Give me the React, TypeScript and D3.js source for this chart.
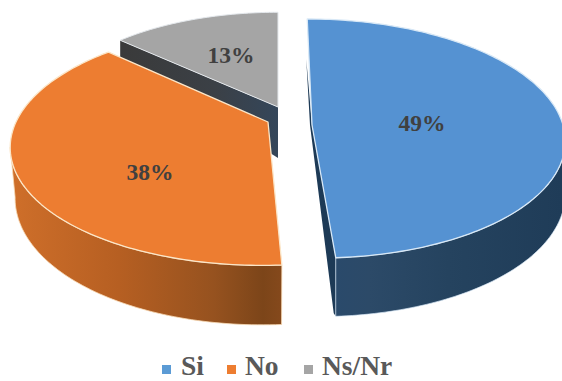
import React from "react";
import * as d3 from "d3";

// Survey answers, in percent
const categories = ["Si", "No", "Ns/Nr"];
const shares = [49, 38, 13];

const topColors = ["#5592d2", "#ed7d31", "#a5a5a5"];
const rimColors = ["#d8e8f6", "#fbe6c8", "#e4e8ec"];
const textDark = "#404040";
const legendText = "#595959";

// Perspective projection of each exploded slice: apex position, radii, foreshortening,
// shear, wall depth and how far the lower wall edge leans inwards
const views = [
  { ax: 312, ay: 125, rx: 251, ry: 118, p: 0.113, s: 0.045, d: 52, lean: 0 },
  { ax: 268, ay: 122, rx: 252, ry: 115.7, p: 0.193, s: -0.04, d: 48, lean: 5 },
  { ax: 278, ay: 107, rx: 231, ry: 104, p: 0.098, s: 0, d: 46, lean: 0 },
];
const labelSpots = [
  [422, 131],
  [150, 180],
  [231, 63],
];
const legendSpots = [
  { box: 162, text: 181 },
  { box: 227, text: 245 },
  { box: 304, text: 322 },
];

type View = (typeof views)[number];

const project = (v: View, t: number): [number, number] => {
  const w = 1 + v.p * Math.cos(t);
  const Y = (-v.ry * Math.cos(t)) / w;
  return [v.ax + (v.rx * Math.sin(t)) / w + v.s * Y, v.ay + Y];
};

const wallDepth = (v: View, t: number) => v.d / (1 + v.p * Math.cos(t));

const sampleAngles = (a: number, b: number) => {
  const n = Math.max(2, Math.ceil(Math.abs(b - a) / 0.02));
  return d3.range(n + 1).map((i) => d3.interpolateNumber(a, b)(i / n));
};

const pathOf = d3.line<[number, number]>().x((d) => d[0]).y((d) => d[1]);

export default function App() {
  const arcs = d3
    .pie<number>()
    .sort(null)
    .startAngle(0)
    .endAngle(2 * Math.PI)(shares);

  const topPath = (i: number) => {
    const v = views[i];
    const rim = sampleAngles(arcs[i].startAngle, arcs[i].endAngle).map((t) => project(v, t));
    return pathOf([[v.ax, v.ay], ...rim]) + "Z";
  };

  // Outer wall of a slice: the visible rim dropped by the depth at each angle
  const outerWall = (i: number, from: number, to: number) => {
    const v = views[i];
    const angles = sampleAngles(from, to);
    const upper = angles.map((t) => project(v, t));
    const lower = angles
      .slice()
      .reverse()
      .map((t) => {
        const [x, y] = project(v, t);
        return [x - v.lean * Math.sin(t), y + wallDepth(v, t)] as [number, number];
      });
    return pathOf([...upper, ...lower]) + "Z";
  };

  const blue = views[0];
  const blueEnd = project(blue, arcs[0].endAngle);
  const blueStart = project(blue, arcs[0].startAngle);
  const blueDepth = wallDepth(blue, arcs[0].endAngle);
  const blueCut = pathOf([
    [blueStart[0] - 1, blueStart[1] + 40],
    [blue.ax, blue.ay],
    blueEnd,
    [blueEnd[0], blueEnd[1] + blueDepth],
    [blueEnd[0] - 2, blueEnd[1] + blueDepth - 3],
    [blue.ax - 2, blue.ay],
  ]) + "Z";

  const gray = views[2];
  const grayEdge = project(gray, arcs[2].startAngle);
  const grayCut = pathOf([
    grayEdge,
    [gray.ax, gray.ay],
    [gray.ax, gray.ay + 51],
    [grayEdge[0], grayEdge[1] + 17],
  ]) + "Z";

  return (
    <svg
      width={562}
      height={381}
      style={{ position: "absolute", left: 0, top: 0, background: "#fff" }}
      fontFamily="'Liberation Serif', serif"
      fontWeight="bold"
    >
      <defs>
        <linearGradient id="wallOrange" gradientUnits="userSpaceOnUse" x1={10} x2={282} y1={0} y2={0}>
          <stop offset="0" stopColor="#cf6f2a" />
          <stop offset="0.4" stopColor="#b65f22" />
          <stop offset="0.75" stopColor="#96521f" />
          <stop offset="0.93" stopColor="#7c4519" />
          <stop offset="1" stopColor="#85491c" />
        </linearGradient>
        <linearGradient id="wallBlue" gradientUnits="userSpaceOnUse" x1={335} x2={562} y1={0} y2={0}>
          <stop offset="0" stopColor="#2a4a6b" />
          <stop offset="0.15" stopColor="#2c4a68" />
          <stop offset="0.5" stopColor="#25435f" />
          <stop offset="1" stopColor="#1f3c58" />
        </linearGradient>
        <linearGradient id="wallGray" gradientUnits="userSpaceOnUse" x1={119} x2={278} y1={0} y2={0}>
          <stop offset="0" stopColor="#3a3a3a" />
          <stop offset="0.6" stopColor="#3b4046" />
          <stop offset="1" stopColor="#34465a" />
        </linearGradient>
      </defs>

      {/* Grey slice, furthest back */}
      <path d={grayCut} fill="url(#wallGray)" />
      <path d={topPath(2)} fill={topColors[2]} stroke={rimColors[2]} strokeWidth={1} strokeLinejoin="round" />

      {/* Orange slice */}
      <path
        d={outerWall(1, (258 * Math.PI) / 180, arcs[1].startAngle)}
        fill="url(#wallOrange)"
        stroke="#f8d9b4"
        strokeWidth={0.8}
      />
      <path d={topPath(1)} fill={topColors[1]} stroke={rimColors[1]} strokeWidth={1.3} strokeLinejoin="round" />

      {/* Blue slice */}
      <path d={blueCut} fill="#1d3a56" />
      <path
        d={outerWall(0, (96 * Math.PI) / 180, arcs[0].endAngle)}
        fill="url(#wallBlue)"
        stroke="#d8e8f6"
        strokeWidth={0.7}
      />
      <path d={topPath(0)} fill={topColors[0]} stroke={rimColors[0]} strokeWidth={1.3} strokeLinejoin="round" />

      {/* Percentage labels */}
      {shares.map((value, i) => (
        <text
          key={categories[i]}
          x={labelSpots[i][0]}
          y={labelSpots[i][1]}
          fontSize={23.5}
          textAnchor="middle"
          fill={textDark}
        >
          {d3.format(".0%")(value / 100)}
        </text>
      ))}

      {/* Legend */}
      {categories.map((name, i) => (
        <g key={name}>
          <rect x={legendSpots[i].box} y={365} width={9} height={9} fill={i === 0 ? "#5b9bd5" : topColors[i]} />
          <text x={legendSpots[i].text} y={375} fontSize={27.5} fill={legendText}>
            {name}
          </text>
        </g>
      ))}
    </svg>
  );
}
